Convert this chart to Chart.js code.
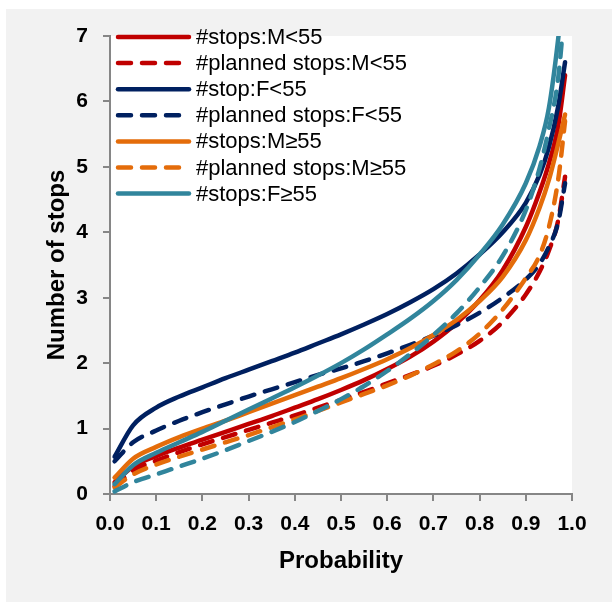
<!DOCTYPE html>
<html>
<head>
<meta charset="utf-8">
<script src="https://cdn.jsdelivr.net/npm/chart.js@4.4.1/dist/chart.umd.min.js"></script>
<style>
  html, body { margin:0; padding:0; background:#fff; }
  #frame { position:absolute; left:6px; top:9px; width:606px; height:593px; background:#f2f2f2; }
  #wrap { position:absolute; left:0; top:0; width:612px; height:602px; }
</style>
</head>
<body>
<div id="frame"></div>
<div id="wrap"><canvas id="chart" width="612" height="602"></canvas></div>
<script>
// Data (probability -> number of stops)
const probs = [0.01,0.05,0.1,0.15,0.2,0.25,0.3,0.35,0.4,0.45,0.5,0.55,0.6,0.65,0.7,0.75,0.8,0.85,0.9,0.93,0.95,0.97,0.985]

const stopsM_lt55    = [0.18,0.42,0.58,0.71,0.83,0.95,1.07,1.19,1.32,1.45,1.59,1.74,1.91,2.10,2.33,2.61,2.96,3.42,4.08,4.62,5.05,5.62,6.40]
const plannedM_lt55  = [0.12,0.36,0.51,0.64,0.76,0.87,0.98,1.09,1.20,1.32,1.44,1.56,1.69,1.82,1.96,2.13,2.34,2.63,3.05,3.40,3.72,4.18,4.85]
const stopF_lt55     = [0.57,1.05,1.32,1.49,1.63,1.77,1.90,2.03,2.16,2.30,2.44,2.59,2.75,2.93,3.13,3.37,3.66,4.00,4.45,4.88,5.30,5.92,6.60]
const plannedF_lt55  = [0.50,0.79,0.97,1.12,1.25,1.37,1.49,1.60,1.71,1.82,1.92,2.03,2.15,2.28,2.42,2.58,2.77,3.00,3.28,3.52,3.78,4.15,4.75]
const stopsM_ge55    = [0.25,0.54,0.72,0.87,1.00,1.12,1.25,1.38,1.51,1.64,1.77,1.91,2.06,2.23,2.43,2.66,2.95,3.32,3.88,4.38,4.80,5.35,5.80]
const plannedM_ge55  = [0.10,0.30,0.45,0.57,0.68,0.79,0.90,1.02,1.14,1.27,1.40,1.53,1.66,1.81,1.98,2.18,2.45,2.82,3.30,3.65,4.08,4.80,5.70]
const stopsF_ge55    = [0.15,0.44,0.63,0.79,0.95,1.12,1.29,1.46,1.63,1.81,2.00,2.21,2.44,2.68,2.95,3.27,3.66,4.12,4.75,5.32,5.90,6.95,8.00]
const plannedF_ge55  = [0.04,0.18,0.30,0.42,0.54,0.67,0.81,0.95,1.10,1.27,1.45,1.65,1.88,2.14,2.43,2.76,3.16,3.64,4.34,4.98,5.58,6.35,7.50]

const seriesLabels = ['#stops:M<55','#planned stops:M<55','#stop:F<55','#planned stops:F<55',
                      '#stops:M\u226555','#planned stops:M\u226555','#stops:F\u226555','#planned stops:F\u226555']
const seriesValues = [stopsM_lt55, plannedM_lt55, stopF_lt55, plannedF_lt55, stopsM_ge55, plannedM_ge55, stopsF_ge55, plannedF_ge55]
const seriesColors = ['#C00000','#C00000','#002060','#002060','#E46C0A','#E46C0A','#31859C','#31859C']
const seriesDashed = [false,true,false,true,false,true,false,true]
const legendCount = 7   // last series is not shown in the legend
const xTicks = [0,0.1,0.2,0.3,0.4,0.5,0.6,0.7,0.8,0.9,1.0]
const yTicks = [0,1,2,3,4,5,6,7]

const DASH = [13,11]
const LINE_W = 4.5

const datasets = seriesValues.map((vals,i)=>({
  label: seriesLabels[i],
  data: vals.map((v,j)=>({x:probs[j], y:v})),
  borderColor: seriesColors[i],
  borderWidth: LINE_W,
  borderDash: seriesDashed[i] ? DASH : [],
  borderCapStyle: 'round',
  borderJoinStyle: 'round',
  pointRadius: 0,
  fill: false,
  cubicInterpolationMode: 'monotone',
  order: seriesValues.length - i   // later series drawn on top, like the original
}))

// white plot background
const plotBg = {
  id: 'plotBg',
  beforeDraw(chart){
    const {ctx, chartArea:a} = chart
    ctx.save(); ctx.fillStyle = '#fff'
    ctx.fillRect(a.left, a.top, a.right-a.left, a.bottom-a.top)
    ctx.restore()
  }
}

// legend drawn inside the plot, top left
const insideLegend = {
  id: 'insideLegend',
  afterDraw(chart){
    const ctx = chart.ctx
    const x0 = 118, x1 = 189, tx = 196, y0 = 37, dy = 26.1
    ctx.save()
    ctx.font = '22px "Liberation Sans", Arial, sans-serif'
    ctx.textBaseline = 'middle'
    for (let i=0;i<legendCount;i++){
      const y = y0 + i*dy
      ctx.beginPath()
      ctx.strokeStyle = seriesColors[i]
      ctx.lineWidth = LINE_W
      ctx.lineCap = 'round'
      ctx.setLineDash(seriesDashed[i] ? DASH : [])
      ctx.moveTo(x0, y); ctx.lineTo(x1, y); ctx.stroke()
      ctx.setLineDash([])
      ctx.fillStyle = '#000'
      ctx.fillText(seriesLabels[i], tx, y+1)
    }
    ctx.restore()
  }
}

const tickFont = {family:'"Liberation Sans", Arial, sans-serif', size:21, weight:'bold'}
const titleFont = {family:'"Liberation Sans", Arial, sans-serif', size:24, weight:'bold'}
const axisGrey = '#868686'

new Chart(document.getElementById('chart'), {
  type: 'line',
  data: { datasets },
  options: {
    responsive: false,
    animation: false,
    layout: { padding: {left:0, top:36, right:40, bottom:0}, autoPadding: false },
    plugins: { legend:{display:false}, tooltip:{enabled:false} },
    scales: {
      x: {
        type: 'linear', min: 0, max: 1,
        afterBuildTicks: s => { s.ticks = xTicks.map(v=>({value:v})) },
        afterFit: s => { s.height = 108 },
        ticks: { callback: v => v.toFixed(1), font: tickFont, color:'#000', padding: 11, maxRotation: 0, autoSkip: false },
        grid: { drawOnChartArea:false, drawTicks:true, tickLength:7, color:axisGrey, lineWidth:2 },
        border: { color:axisGrey, width:2 },
        title: { display:true, text:'Probability', font:titleFont, color:'#000', padding:{top:0, bottom:26} }
      },
      y: {
        min: 0, max: 7,
        afterBuildTicks: s => { s.ticks = yTicks.map(v=>({value:v})) },
        afterFit: s => { s.width = 110 },
        ticks: { font: tickFont, color:'#000', padding: 15 },
        grid: { drawOnChartArea:false, drawTicks:true, tickLength:7, color:axisGrey, lineWidth:2 },
        border: { color:axisGrey, width:2 },
        title: { display:true, text:'Number of stops', font:titleFont, color:'#000', padding:{top:43, bottom:0} }
      }
    }
  },
  plugins: [plotBg, insideLegend]
})
</script>
</body>
</html>
